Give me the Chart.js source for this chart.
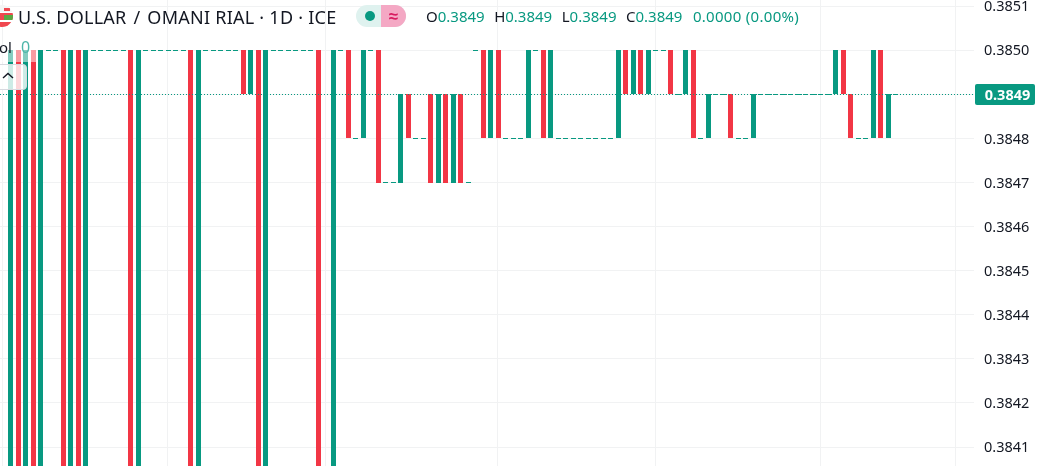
<!DOCTYPE html>
<html>
<head>
<meta charset="utf-8">
<script src="https://cdn.jsdelivr.net/npm/chart.js@4"></script>
<style>
  html, body { margin: 0; padding: 0; background: #fff; overflow: hidden; }
  #wrap { position: relative; width: 1041px; height: 466px; overflow: hidden; font-family: "Noto Sans", sans-serif; }
  #chart { position: absolute; left: 0; top: 0; }
  .abs { position: absolute; white-space: nowrap; }
  #title { left: 18px; top: 4px; font-size: 18px; line-height: 26px; color: #131722; letter-spacing: 0.25px; }
  #title span { margin: 0 2px; }
  #flag { left: -9px; top: 5px; width: 22px; height: 22px; }
  #pill { left: 356px; top: 5px; width: 50px; height: 22px; border-radius: 11px; overflow: hidden; background: #dff2ef; }
  #pill i { position: absolute; left: 25px; top: 0; width: 25px; height: 22px; background: #f4a8c4; }
  #pill b { position: absolute; left: 9px; top: 6px; width: 10px; height: 10px; border-radius: 5px; background: #089981; }
  #pill span { position: absolute; left: 25px; width: 25px; top: 0; text-align: center; line-height: 22px; font-size: 17px; font-weight: 700; color: #d81b60; }
  #ohlc { left: 426px; top: 6px; font-size: 15px; line-height: 20px; color: #089981; }
  #ohlc em { font-style: normal; color: #131722; }
  #ohlc span { margin-right: 9.5px; }
  #ohlc span:last-child { margin-right: 0; margin-left: 1px; letter-spacing: 0.3px; }
  #legendVeil { left: 0; top: 50px; width: 37px; height: 12px; background: rgba(255,255,255,.5); }
  #vol { left: -1px; top: 37px; font-size: 15px; line-height: 20px; color: #131722; }
  #vol span { color: #4db6a9; font-size: 16px; margin-left: 9px; }
  #toggle { left: -6px; top: 64px; width: 31px; height: 24px; border: 1px solid #d8dae0; border-radius: 4px; background: rgba(255,255,255,.8); }
  #toggle svg { position: absolute; left: 5.5px; top: 6px; }
  #lastTag { left: 975px; top: 84px; width: 55px; padding-left: 5px; height: 21px; background: #089981; border-radius: 2px; color: #fff; font-size: 14.5px; font-weight: 700; line-height: 21px; text-align: center; }
</style>
</head>
<body>
<div id="wrap">
  <canvas id="chart" width="1041" height="466"></canvas>
  <svg id="flag" class="abs" viewBox="0 0 22 22">
    <defs><clipPath id="c"><circle cx="11" cy="11" r="11"/></clipPath></defs>
    <g clip-path="url(#c)">
      <rect width="22" height="22" fill="#fff"/>
      <rect y="0" width="22" height="7" fill="#f4f4f4"/>
      <rect y="8" width="22" height="7" fill="#f0474f"/>
      <rect y="17" width="22" height="5" fill="#f0474f"/>
      <rect x="13" y="10" width="9" height="5" fill="#5aa845"/>
      <rect x="13" y="3" width="6" height="3" fill="#f0474f"/>
    </g>
  </svg>
  <div id="title" class="abs">U.S. DOLLAR <span>/</span> OMANI RIAL · 1D · ICE</div>
  <div id="pill" class="abs"><i></i><b></b><span>≈</span></div>
  <div id="ohlc" class="abs"><span><em>O</em>0.3849</span><span><em>H</em>0.3849</span><span><em>L</em>0.3849</span><span><em>C</em>0.3849</span><span>0.0000 (0.00%)</span></div>
  <div id="legendVeil" class="abs"></div>
  <div id="vol" class="abs">ol<span>0</span></div>
  <div id="toggle" class="abs"><svg width="14" height="10" viewBox="0 0 14 10"><path d="M2 7 L7 2.5 L12 7" fill="none" stroke="#131722" stroke-width="1.4"/></svg></div>
  <div id="lastTag" class="abs">0.3849</div>
</div>
<script>
// Session opens and closes, one per daily bar. Bars running off the bottom of the
// picture are estimated at 0.3840.
const opens = [
  0.3840, 0.3850, 0.3840, 0.3850, 0.3840, 0.3850, 0.3850, 0.3850, 0.3840, 0.3850,
  0.3840, 0.3850, 0.3850, 0.3850, 0.3850, 0.3850, 0.3850, 0.3840, 0.3850, 0.3850,
  0.3850, 0.3850, 0.3850, 0.3850, 0.3850, 0.3840, 0.3850, 0.3850, 0.3850, 0.3850,
  0.3850, 0.3850, 0.3849, 0.3850, 0.3840, 0.3850, 0.3850, 0.3850, 0.3850, 0.3850,
  0.3850, 0.3850, 0.3840, 0.3840, 0.3850, 0.3850, 0.3848, 0.3848, 0.3850, 0.3850,
  0.3847, 0.3847, 0.3847, 0.3849, 0.3848, 0.3848, 0.3849, 0.3847, 0.3849, 0.3847,
  0.3849, 0.3847, 0.3850, 0.3850, 0.3848, 0.3850, 0.3848, 0.3848, 0.3848, 0.3848,
  0.3850, 0.3850, 0.3848, 0.3848, 0.3848, 0.3848, 0.3848, 0.3848, 0.3848, 0.3848,
  0.3848, 0.3848, 0.3850, 0.3849, 0.3850, 0.3849, 0.3850, 0.3850, 0.3850, 0.3849,
  0.3849, 0.3850, 0.3848, 0.3848, 0.3849, 0.3849, 0.3849, 0.3848, 0.3848, 0.3848,
  0.3849, 0.3849, 0.3849, 0.3849, 0.3849, 0.3849, 0.3849, 0.3849, 0.3849, 0.3849,
  0.3849, 0.3850, 0.3849, 0.3848, 0.3848, 0.3848, 0.3850, 0.3848, 0.3849
];
const closes = [
  0.3850, 0.3840, 0.3850, 0.3840, 0.3850, 0.3850, 0.3850, 0.3840, 0.3850, 0.3840,
  0.3850, 0.3850, 0.3850, 0.3850, 0.3850, 0.3850, 0.3840, 0.3850, 0.3850, 0.3850,
  0.3850, 0.3850, 0.3850, 0.3850, 0.3840, 0.3850, 0.3850, 0.3850, 0.3850, 0.3850,
  0.3850, 0.3849, 0.3850, 0.3840, 0.3850, 0.3850, 0.3850, 0.3850, 0.3850, 0.3850,
  0.3850, 0.3840, 0.3840, 0.3850, 0.3850, 0.3848, 0.3848, 0.3850, 0.3850, 0.3847,
  0.3847, 0.3847, 0.3849, 0.3848, 0.3848, 0.3848, 0.3847, 0.3849, 0.3847, 0.3849,
  0.3847, 0.3847, 0.3850, 0.3848, 0.3850, 0.3848, 0.3848, 0.3848, 0.3848, 0.3850,
  0.3850, 0.3848, 0.3850, 0.3848, 0.3848, 0.3848, 0.3848, 0.3848, 0.3848, 0.3848,
  0.3848, 0.3850, 0.3849, 0.3850, 0.3849, 0.3850, 0.3850, 0.3850, 0.3849, 0.3849,
  0.3850, 0.3848, 0.3848, 0.3849, 0.3849, 0.3849, 0.3848, 0.3848, 0.3848, 0.3849,
  0.3849, 0.3849, 0.3849, 0.3849, 0.3849, 0.3849, 0.3849, 0.3849, 0.3849, 0.3849,
  0.3850, 0.3849, 0.3848, 0.3848, 0.3848, 0.3850, 0.3848, 0.3849, 0.3849
];
const priceTicks = [0.3851, 0.3850, 0.3849, 0.3848, 0.3847, 0.3846, 0.3845, 0.3844, 0.3843, 0.3842, 0.3841];
// Bar indexes where the month grid lines fall
const monthBreaks = [-1, 21, 42, 65, 86, 108, 126];
const lastPrice = 0.3849;

const UP = '#089981';
const DOWN = '#f23645';
const GRID = '#f1f2f3';

const barPoints = [];
const flatPoints = [];
opens.forEach((open, i) => {
  if (open === closes[i]) {
    flatPoints.push({ x: i, y: open });
  } else {
    barPoints.push({ x: i, y: [open, closes[i]] });
  }
});

// Put bars, flat sessions and the last price line on whole pixels so they stay crisp
const snapToPixels = {
  id: 'snapToPixels',
  afterDatasetsUpdate(chart) {
    chart.getDatasetMeta(0).data.forEach(el => {
      el.x = Math.floor(el.x + 0.1) + 0.5;
      el.y = Math.round(el.y);
      el.base = Math.round(el.base);
    });
    chart.getDatasetMeta(1).data.forEach(el => {
      el.x = Math.floor(el.x + 0.1) + 0.5;
      el.y = Math.floor(el.y) + 0.5;
    });
    chart.getDatasetMeta(2).data.forEach(el => {
      el.y = Math.floor(el.y) + 0.5;
    });
  }
};

const xMin = -1.4;
const xMax = 128.4667;

new Chart(document.getElementById('chart').getContext('2d'), {
  type: 'bar',
  data: {
    datasets: [
      {
        data: barPoints,
        barThickness: 5,
        borderWidth: 0,
        inflateAmount: 0,
        backgroundColor: ctx => {
          const p = ctx.raw;
          return p && p.y[1] > p.y[0] ? UP : DOWN;
        },
        order: 2
      },
      {
        type: 'scatter',
        data: flatPoints,
        pointStyle: 'line',
        pointRadius: 2.5,
        pointBorderWidth: 1,
        pointBorderColor: UP,
        pointBackgroundColor: UP,
        order: 3
      },
      {
        type: 'line',
        data: [{ x: xMin, y: lastPrice }, { x: xMax, y: lastPrice }],
        borderColor: UP,
        borderWidth: 1,
        borderDash: [1, 2],
        pointRadius: 0,
        order: 1
      }
    ]
  },
  options: {
    responsive: false,
    animation: false,
    devicePixelRatio: 1,
    layout: { padding: 0, autoPadding: false },
    plugins: { legend: { display: false }, tooltip: { enabled: false } },
    scales: {
      x: {
        type: 'linear',
        min: xMin,
        max: xMax,
        offset: false,
        border: { display: false },
        grid: { color: GRID, drawTicks: false, offset: false },
        ticks: { display: false },
        afterBuildTicks: axis => { axis.ticks = monthBreaks.map(value => ({ value })); },
        afterFit: axis => {
          axis.height = 0;
          axis.paddingLeft = 0;
          axis.paddingRight = 0;
        }
      },
      y: {
        position: 'right',
        min: 0.384057,
        max: 0.385114,
        border: { display: false },
        grid: { color: GRID, drawTicks: false },
        ticks: {
          color: '#131722',
          font: { family: '"Noto Sans"', size: 14.5 },
          padding: 10,
          labelOffset: 1,
          callback: val => val.toFixed(4)
        },
        afterBuildTicks: axis => { axis.ticks = priceTicks.map(value => ({ value })); },
        afterFit: axis => {
          axis.width = 67;
          axis.paddingTop = 0;
          axis.paddingBottom = 0;
        }
      }
    }
  },
  plugins: [snapToPixels]
});
</script>
</body>
</html>
